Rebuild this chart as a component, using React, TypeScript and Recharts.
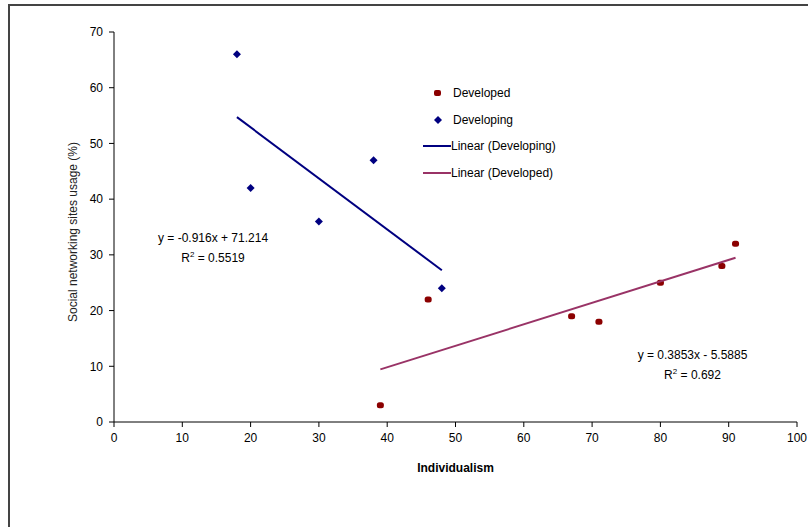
import React from 'react';
import { ScatterChart, Scatter, XAxis, YAxis, ReferenceDot } from 'recharts';

const developingX = [18, 20, 30, 38, 48];
const developingY = [66, 42, 36, 47, 24];
const developedX = [39, 46, 67, 71, 80, 89, 91];
const developedY = [3, 22, 19, 18, 25, 28, 32];
const trendDevelopingX = [18, 48];
const trendDevelopingY = [54.72, 27.24];
const trendDevelopedX = [39, 91];
const trendDevelopedY = [9.44, 29.47];
const xTicks = [0, 10, 20, 30, 40, 50, 60, 70, 80, 90, 100];
const yTicks = [0, 10, 20, 30, 40, 50, 60, 70];
const eqDeveloping = ['y = -0.916x + 71.214', '0.5519'];
const eqDeveloped = ['y = 0.3853x - 5.5885', '0.692'];
const legendNames = ['Developed', 'Developing', 'Linear (Developing)', 'Linear (Developed)'];

const zip = (xs: number[], ys: number[]) => xs.map((x, i) => ({ x, y: ys[i] }));
const developing = zip(developingX, developingY);
const developed = zip(developedX, developedY);
const trendDeveloping = zip(trendDevelopingX, trendDevelopingY);
const trendDeveloped = zip(trendDevelopedX, trendDevelopedY);

const NAVY = '#000080';
const DARKRED = '#8B0000';
const MAGENTA = '#993366';
const FONT = '"Liberation Sans", Arial, sans-serif';

const Diamond = (p: any) => {
  const { cx, cy } = p;
  if (cx == null || cy == null) return <g />;
  const s = 4;
  return <polygon points={`${cx},${cy - s} ${cx + s},${cy} ${cx},${cy + s} ${cx - s},${cy}`} fill={NAVY} />;
};
const Dot = (p: any) => {
  const { cx, cy } = p;
  if (cx == null || cy == null) return <g />;
  return <rect x={cx - 3.5} y={cy - 3} width={7} height={6} rx={2.5} fill={DARKRED} />;
};
const Nothing = () => <g />;

const EqLabel = (lines: string[]) => (props: any) => {
  const vb = props.viewBox || {};
  const cx = vb.cx ?? vb.x;
  const cy = vb.cy ?? vb.y;
  return (
    <g fontFamily={FONT} fontSize={12} fill="#000">
      <text x={cx} y={cy} textAnchor="middle">{lines[0]}</text>
      <text x={cx} y={cy + 20} textAnchor="middle">
        R<tspan dy={-5} fontSize={8}>2</tspan><tspan dy={5}>{' = ' + lines[1]}</tspan>
      </text>
    </g>
  );
};

const legendMarks = [
  <rect x={11} y={2} width={7} height={6} rx={2} fill={DARKRED} />,
  <polygon points="15,1 19,5 15,9 11,5" fill={NAVY} />,
  <line x1={0} x2={28} y1={5} y2={5} stroke={NAVY} strokeWidth={2} />,
  <line x1={0} x2={28} y1={5} y2={5} stroke={MAGENTA} strokeWidth={2} />,
];

const LegendBox = () => (
  <div style={{ position: 'absolute', left: 423, top: 80, fontFamily: FONT, fontSize: 12, color: '#000', lineHeight: '26.5px' }}>
    {legendNames.map((n, i) => (
      <div key={n} style={{ display: 'flex', alignItems: 'center' }}>
        <svg width={i < 2 ? 30 : 28} height={10}>{legendMarks[i]}</svg>
        <span>{n}</span>
      </div>
    ))}
  </div>
);

const YLabel = (props: any) => {
  const vb = props.viewBox;
  const x = vb.x + 19;
  const y = vb.y + vb.height / 2 + 5;
  return (
    <text x={x} y={y} transform={`rotate(-90 ${x} ${y})`} textAnchor="middle" dominantBaseline="central"
      fontFamily={FONT} fontSize={12} fill="#222">
      Social networking sites usage (%)
    </text>
  );
};

export default function App() {
  const tickStyle = { fontFamily: FONT, fontSize: 12, fill: '#000' };
  return (
    <div style={{ position: 'absolute', left: 0, top: 0, width: 808, height: 527, background: '#fff', overflow: 'hidden' }}>
      <div style={{ position: 'absolute', left: 8, top: 4, width: 800, height: 523, borderTop: '2px solid #444', borderLeft: '2px solid #444' }} />
      <div style={{ position: 'absolute', left: 0, top: 0 }}>
        <ScatterChart width={808} height={527} margin={{ top: 32, right: 11, bottom: 75, left: 54 }}>
          <XAxis type="number" dataKey="x" domain={[0, 100]} ticks={xTicks} interval={0}
            axisLine={{ stroke: '#000' }} tickLine={{ stroke: '#000' }} tickSize={5} tickMargin={6}
            tick={tickStyle} height={30}
            label={{ value: 'Individualism', position: 'bottom', offset: 11, style: { fontFamily: FONT, fontSize: 12, fontWeight: 'bold', fill: '#000' } }} />
          <YAxis type="number" dataKey="y" domain={[0, 70]} ticks={yTicks} interval={0}
            axisLine={{ stroke: '#000' }} tickLine={{ stroke: '#000' }} tickSize={5} tickMargin={6}
            tick={tickStyle} width={60} label={<YLabel />} />
          <Scatter name="Developed" data={developed} shape={Dot} isAnimationActive={false} />
          <Scatter name="Developing" data={developing} shape={Diamond} isAnimationActive={false} />
          <Scatter name="Linear (Developing)" data={trendDeveloping} line={{ stroke: NAVY, strokeWidth: 2 }}
            lineType="joint" shape={Nothing} isAnimationActive={false} />
          <Scatter name="Linear (Developed)" data={trendDeveloped} line={{ stroke: MAGENTA, strokeWidth: 2 }}
            lineType="joint" shape={Nothing} isAnimationActive={false} />
          <ReferenceDot x={14.5} y={32.3} r={0} stroke="none" fill="none" label={EqLabel(eqDeveloping)} />
          <ReferenceDot x={84.7} y={11.25} r={0} stroke="none" fill="none" label={EqLabel(eqDeveloped)} />
        </ScatterChart>
      </div>
      <LegendBox />
    </div>
  );
}
